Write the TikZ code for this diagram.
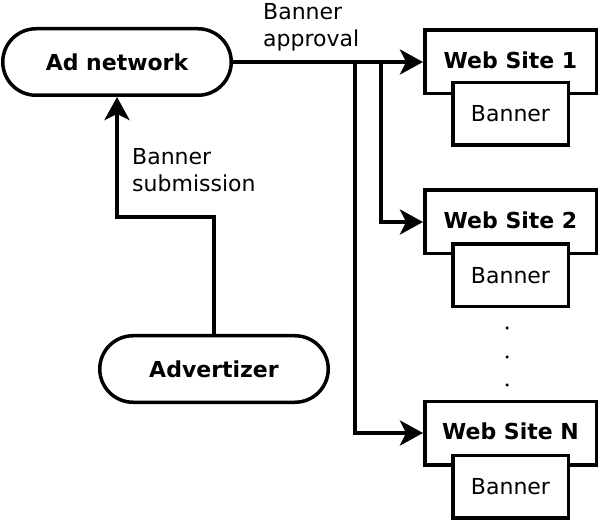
\documentclass[tikz,border=0pt]{standalone}
\usepackage{fontspec}
\setmainfont{DejaVu Sans}
\usetikzlibrary{arrows.meta,shapes.misc}
\begin{document}
\begin{tikzpicture}[x=1pt,y=-1pt,
  every node/.style={font=\fontsize{22}{27}\selectfont},
  conn/.style={line width=3.5pt,-{Stealth[length=23pt,width=25pt,inset=6pt]}},
  actor/.style={draw,line width=3.5pt,rounded rectangle,minimum width=228.5pt,minimum height=66.5pt,inner sep=0pt,font=\fontsize{22}{27}\selectfont\bfseries},
  sitebox/.style={draw,line width=3.5pt,fill=white,rectangle,minimum width=171.5pt,minimum height=63.5pt,inner sep=0pt,text depth=4pt,font=\fontsize{22}{27}\selectfont\bfseries},
  bannerbox/.style={draw,line width=3.5pt,fill=white,rectangle,minimum width=115.5pt,minimum height=62.5pt,inner sep=0pt},
  lbl/.style={align=left,inner sep=0pt,anchor=west},
  dot/.style={circle,fill=black,inner sep=0pt,minimum size=3.5pt}]
\useasboundingbox (0,0) rectangle (600,521);

\node[actor] (ad) at (117,62) {Ad network};
\node[actor] (adv) at (214,369) {Advertizer};

\node[sitebox] (ws1) at (510.5,62) {Web Site 1};
\node[bannerbox] (b1) at (510.5,114) {Banner};
\node[sitebox] (ws2) at (510.5,222) {Web Site 2};
\node[bannerbox] (b2) at (510.5,275.5) {Banner};
\node[sitebox] (wsn) at (510.5,433) {Web Site N};
\node[bannerbox] (bn) at (510.5,486.5) {Banner};

\node[dot] (d1) at (507,328) {};
\node[dot] (d2) at (507,357) {};
\node[dot] (d3) at (507,385) {};

\coordinate (bend) at (117,217);
\coordinate (j1) at (355,62);
\coordinate (j2) at (381,62);

\draw[conn] (adv.north) |- (bend) -- (ad.south);
\draw[conn] (ad.east) -- (ws1.west);
\draw[conn] (j2) |- (ws2.west);
\draw[conn] (j1) |- (wsn.west);

\node[lbl] (lapp) at (263,27) {Banner\\approval};
\node[lbl] (lsub) at (132,170.5) {Banner\\submission};
\end{tikzpicture}
\end{document}
